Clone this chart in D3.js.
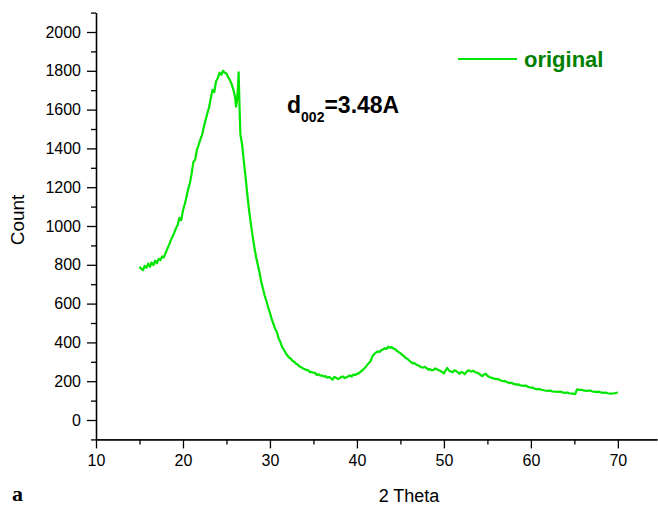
<!DOCTYPE html>
<html>
<head>
<meta charset="utf-8">
<script src="https://cdn.jsdelivr.net/npm/d3@7"></script>
<style>
  html, body { margin: 0; padding: 0; background: #fff; }
  svg { display: block; }
  .axis text { font-family: 'Liberation Sans', Arial, sans-serif; font-size: 16px; fill: #000; }
  .axis path, .axis line { stroke: #000; stroke-width: 1.3; }
</style>
</head>
<body>
<svg id="chart"></svg>
<script>
'use strict';

// x-axis ticks (2 Theta, degrees)
const xMajorTicks = [10, 20, 30, 40, 50, 60, 70];
const xMinorTicks = [15, 25, 35, 45, 55, 65];
// y-axis ticks (Count)
const yMajorTicks = [0, 200, 400, 600, 800, 1000, 1200, 1400, 1600, 1800, 2000];
const yMinorTicks = [-100, 100, 300, 500, 700, 900, 1100, 1300, 1500, 1700, 1900, 2100];

const seriesName = 'original';

// [2 theta, count]
const scan = [
    [15.0, 790], [15.2, 780], [15.4, 772], [15.6, 795], [15.8, 784], [16.0, 806],
    [16.2, 790], [16.4, 812], [16.6, 798], [16.8, 821], [17.0, 808], [17.2, 830],
    [17.4, 824], [17.6, 843], [17.8, 838], [18.0, 860], [18.2, 882], [18.4, 903],
    [18.6, 926], [18.8, 946], [19.0, 966], [19.2, 988], [19.4, 1006], [19.6, 1042],
    [19.8, 1030], [20.0, 1080], [20.2, 1112], [20.4, 1150], [20.6, 1190], [20.8, 1222],
    [21.0, 1272], [21.2, 1330], [21.4, 1342], [21.6, 1392], [21.8, 1418], [22.0, 1446],
    [22.2, 1470], [22.4, 1512], [22.6, 1546], [22.8, 1580], [23.0, 1612], [23.2, 1660],
    [23.4, 1702], [23.6, 1690], [23.8, 1746], [24.0, 1762], [24.2, 1790], [24.4, 1780],
    [24.6, 1800], [24.8, 1790], [25.0, 1786], [25.2, 1766], [25.4, 1752], [25.6, 1730],
    [25.8, 1702], [26.0, 1662], [26.1, 1615], [26.2, 1642], [26.3, 1700], [26.4, 1792],
    [26.5, 1620], [26.6, 1472], [26.8, 1420], [27.0, 1332], [27.2, 1250], [27.4, 1162],
    [27.6, 1080], [27.8, 1012], [28.0, 950], [28.2, 892], [28.4, 842], [28.6, 800],
    [28.8, 760], [29.0, 712], [29.2, 676], [29.4, 640], [29.6, 612], [29.8, 580],
    [30.0, 552], [30.2, 520], [30.4, 496], [30.6, 470], [30.8, 452], [31.0, 420],
    [31.2, 402], [31.4, 376], [31.6, 362], [31.8, 346], [32.0, 332], [32.2, 322],
    [32.4, 316], [32.6, 304], [32.8, 300], [33.0, 290], [33.2, 286], [33.4, 276],
    [33.6, 272], [33.8, 266], [34.0, 262], [34.2, 258], [34.4, 256], [34.6, 246],
    [34.8, 248], [35.0, 244], [35.2, 242], [35.4, 232], [35.6, 236], [35.8, 228],
    [36.0, 230], [36.2, 224], [36.4, 226], [36.6, 218], [36.8, 222], [37.0, 216],
    [37.2, 208], [37.4, 222], [37.6, 218], [37.8, 212], [38.0, 214], [38.2, 222],
    [38.4, 224], [38.6, 216], [38.8, 220], [39.0, 226], [39.2, 230], [39.4, 224],
    [39.6, 234], [39.8, 232], [40.0, 238], [40.2, 240], [40.4, 248], [40.6, 256],
    [40.8, 264], [41.0, 272], [41.2, 286], [41.4, 294], [41.6, 306], [41.8, 330],
    [42.0, 340], [42.2, 348], [42.4, 354], [42.6, 350], [42.8, 360], [43.0, 364],
    [43.2, 370], [43.4, 366], [43.6, 378], [43.8, 372], [44.0, 376], [44.2, 368],
    [44.4, 366], [44.6, 356], [44.8, 350], [45.0, 344], [45.2, 336], [45.4, 330],
    [45.6, 320], [45.8, 316], [46.0, 306], [46.2, 300], [46.4, 292], [46.6, 294],
    [46.8, 286], [47.0, 282], [47.2, 278], [47.4, 272], [47.6, 270], [47.8, 274],
    [48.0, 268], [48.2, 260], [48.4, 262], [48.6, 256], [48.8, 258], [49.0, 266],
    [49.2, 262], [49.4, 256], [49.6, 252], [49.8, 248], [50.0, 240], [50.2, 256],
    [50.4, 268], [50.6, 254], [50.8, 250], [51.0, 246], [51.2, 256], [51.4, 252],
    [51.6, 246], [51.8, 238], [52.0, 248], [52.2, 244], [52.4, 236], [52.6, 248],
    [52.8, 256], [53.0, 252], [53.2, 250], [53.4, 254], [53.6, 246], [53.8, 244],
    [54.0, 240], [54.2, 232], [54.4, 226], [54.6, 234], [54.8, 238], [55.0, 228],
    [55.2, 222], [55.6, 216], [56.0, 210], [56.2, 212], [56.4, 206], [56.8, 200],
    [57.0, 202], [57.2, 196], [57.6, 190], [57.8, 192], [58.0, 186], [58.4, 182],
    [58.6, 184], [58.8, 178], [59.2, 176], [59.4, 178], [59.6, 172], [60.0, 166],
    [60.2, 168], [60.4, 162], [60.8, 158], [61.0, 160], [61.2, 156], [61.6, 152],
    [62.0, 150], [62.2, 152], [62.4, 148], [62.8, 146], [63.2, 145], [63.4, 147],
    [63.6, 142], [64.0, 140], [64.2, 142], [64.4, 138], [64.8, 136], [65.1, 133],
    [65.3, 158], [65.6, 155], [65.8, 156], [66.0, 153], [66.4, 150], [66.8, 152],
    [67.0, 148], [67.2, 146], [67.6, 144], [67.8, 146], [68.0, 142], [68.4, 140],
    [68.6, 142], [68.8, 138], [69.2, 136], [69.6, 138], [70.0, 142]
];

(function () {
    const width = 658;
    const height = 506;
    const lineColor = '#00e600';
    const labelColor = '#008000';

    const svg = d3.select('#chart')
        .attr('width', width)
        .attr('height', height);

    const x = d3.scaleLinear()
        .domain([10, 74.5])
        .range([96, 657]);

    const y = d3.scaleLinear()
        .domain([-100, 2100])
        .range([439.4, 12.6]);

    const plain = d3.format('d');

    // minor ticks first, majors on top
    svg.append('g')
        .attr('class', 'axis')
        .attr('transform', 'translate(0,' + y(-100) + ')')
        .call(d3.axisBottom(x).tickValues(xMinorTicks).tickSize(5).tickSizeOuter(0).tickFormat(''));
    svg.append('g')
        .attr('class', 'axis')
        .attr('transform', 'translate(0,' + y(-100) + ')')
        .call(d3.axisBottom(x).tickValues(xMajorTicks).tickSize(9).tickSizeOuter(0)
            .tickPadding(6).tickFormat(plain));

    svg.append('g')
        .attr('class', 'axis')
        .attr('transform', 'translate(' + x(10) + ',0)')
        .call(d3.axisLeft(y).tickValues(yMinorTicks).tickSize(5).tickSizeOuter(0).tickFormat(''));
    svg.append('g')
        .attr('class', 'axis')
        .attr('transform', 'translate(' + x(10) + ',0)')
        .call(d3.axisLeft(y).tickValues(yMajorTicks).tickSize(9).tickSizeOuter(0)
            .tickPadding(6).tickFormat(plain));

    const line = d3.line()
        .x(d => x(d[0]))
        .y(d => y(d[1]));

    svg.append('path')
        .datum(scan)
        .attr('fill', 'none')
        .attr('stroke', lineColor)
        .attr('stroke-width', 2.2)
        .attr('stroke-linejoin', 'round')
        .attr('d', line);

    // axis titles
    svg.append('text')
        .attr('transform', 'translate(24,220) rotate(-90)')
        .attr('text-anchor', 'middle')
        .attr('font-family', "'Liberation Sans', Arial, sans-serif")
        .attr('font-size', 19)
        .text('Count');

    svg.append('text')
        .attr('x', 409)
        .attr('y', 502)
        .attr('text-anchor', 'middle')
        .attr('font-family', "'Liberation Sans', Arial, sans-serif")
        .attr('font-size', 18)
        .text('2 Theta');

    svg.append('text')
        .attr('x', 12)
        .attr('y', 501)
        .attr('font-family', "'Liberation Serif', 'Times New Roman', serif")
        .attr('font-weight', 'bold')
        .attr('font-size', 22)
        .text('a');

    // legend
    svg.append('line')
        .attr('x1', 458)
        .attr('x2', 517)
        .attr('y1', 59)
        .attr('y2', 59)
        .attr('stroke', lineColor)
        .attr('stroke-width', 2);
    svg.append('text')
        .attr('x', 524)
        .attr('y', 67)
        .attr('fill', labelColor)
        .attr('font-family', "'Liberation Sans', Arial, sans-serif")
        .attr('font-weight', 'bold')
        .attr('font-size', 22)
        .text(seriesName);

    // d-spacing note
    const note = svg.append('text')
        .attr('x', 287)
        .attr('y', 113)
        .attr('font-family', "'Liberation Sans', Arial, sans-serif")
        .attr('font-weight', 'bold')
        .attr('font-size', 23);
    note.append('tspan').text('d');
    note.append('tspan').attr('font-size', 14).attr('dy', 9).text('002');
    note.append('tspan').attr('dy', -9).text('=3.48A');
}());
</script>
</body>
</html>
